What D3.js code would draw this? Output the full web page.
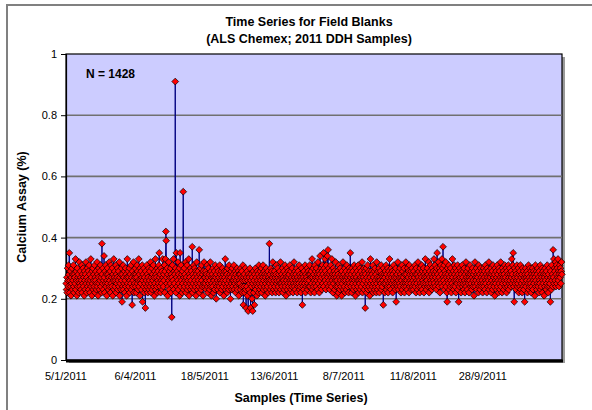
<!DOCTYPE html>
<html><head><meta charset="utf-8">
<script src="https://cdn.jsdelivr.net/npm/d3@7"></script>
<style>body{margin:0;background:#fff}svg{display:block;font-family:Arial,"Liberation Sans",sans-serif}</style>
</head><body><svg id="c" width="592" height="410"></svg>
<script>
// Calcium assay values (hundredths of %) per block of samples
const seg5Jan = [
25,23,27,22,30,26,24,31,28,35,22,26,29,24,21,27,25,30,23,28,
26,31,24,22,28,27,25,33,23,29,26,21,30,24,27,28,22,26,32,25,
24,29,27,23,26,31,22,28,25,30,24,27,21,29,26,23,28,32,25,22,
27,30,24,26,29,23,31,25,28,22,26,33,24,27,21,29,25,30,23,26,
28,24,31,22,27,26,29,23,25,32,24,28,21,27,30,25,23,29,26,31,
24,27,22,38,28,25,30,23,26,34,27,22,29,25,31,24,28,21,26,30,
25,28,23,27,32,24,26,29,22,31,25,27,24,30,21,28,26,33,23,27,
29,24,26,31,22,28,25,27,30,23,26,29,24,32,21,27,25,28,23,30,
26,19,28,24,31,23,27,25,29,22,26,30,24,28,21,27,33,25,23,29,
27,24,30,22,26,28,25,31,23,27,18,29,24,26,32,22,28,25,27,30];
const seg6Apr = [
24,28,22,27,31,25,29,23,26,33,24,28,21,30,26,25,29,23,27,31,
19,26,28,24,30,22,27,25,17,29,23,26,31,24,28,22,27,25,30,23,
26,29,24,32,22,27,25,30,23,28,26,31,24,27,21,29,25,33,23,28,
27,24,30,22,26,29,25,31,35,27,24,28,22,30,26,25,29,23,33,27,
24,28,26,31,22,29,33,42,39,27,25,30,21,28,24,32,26,23,29,27,
25,30,22,28,14,27,31,24,26,33,23,29,25,28,91,30,22,35,27,24,
29,26,32,23,28,25,30,21,35,27,24,31,26,28,22,29,25,55,23,27,
30,24,28,26,32,22,27,25,31,23,29,26,24,33,21,28,27,25,30,23,
26,29,24,37,22,28,25,31,27,23,30,26,24,29,21,28,32,25,27,23,
29,26,24,36,22,28,25,30,27,23,31,26,24,28,21,29,25,32,27,24];
const seg18May = [
27,25,29,23,28,26,31,24,22,27,30,25,28,23,26,32,24,29,21,27,
25,28,24,30,22,27,26,29,23,31,25,27,20,28,24,30,26,23,29,25,
27,24,31,22,28,26,25,29,23,27,30,24,26,28,21,29,25,27,33,23,
26,29,24,28,22,30,25,27,23,31,26,24,28,20,27,29,25,23,30,26,
24,28,26,31,23,27,25,29,22,28,26,24,30,23,27,25,29,21,28,26,
25,28,23,30,27,24,29,22,26,31,18,27,24,28,22,26,30,23,17,27,
24,29,21,26,16,28,23,27,25,30,22,17,26,28,24,20,27,16,25,29,
22,26,18,28,24,30,23,27,25,21,29,26,24,28,22,31,25,27,23,29,
26,24,30,22,28,25,27,31,23,26,29,24,28,21,27,25,30,23,26,28,
24,29,22,27,26,38,25,28,23,30,26,24,29,22,27,32,25,28,23,26];
const seg13Jun = [
29,24,27,22,28,31,25,26,23,30,27,24,28,22,26,29,25,32,23,27,
25,28,24,30,22,27,26,29,23,25,31,24,28,21,27,26,30,23,25,29,
27,24,28,22,31,26,25,29,23,27,24,30,26,22,28,25,32,24,27,29,
23,26,28,25,30,22,27,24,29,26,25,31,23,28,24,27,22,26,30,25,
18,28,24,27,23,29,26,25,31,22,28,24,27,26,30,23,25,29,24,28,
26,31,24,28,22,27,29,25,33,23,27,30,24,28,26,22,31,25,29,27,
24,30,26,28,23,32,27,25,29,22,28,34,26,24,30,27,23,29,31,25,
28,35,24,30,27,33,26,29,23,31,25,28,34,27,36,24,30,26,28,23,
29,25,31,27,24,33,26,28,22,30,25,27,29,23,28,26,32,24,27,21,
26,29,24,28,22,31,25,27,23,30,26,24,28,21,29,25,27,32,23,26];
const seg8Jul = [
28,24,30,22,27,26,29,23,31,25,27,24,28,22,26,30,25,29,35,27,
24,28,22,30,26,25,29,23,27,31,24,26,28,21,30,25,27,23,29,26,
24,31,22,28,26,25,30,23,27,29,24,26,32,22,28,25,27,30,23,26,
29,17,28,24,30,22,27,25,31,23,26,29,24,28,21,27,33,25,23,29,
26,28,24,31,22,27,25,29,23,30,26,24,28,22,32,25,27,23,29,26,
24,30,22,27,26,29,25,31,23,28,24,27,26,18,30,25,28,22,27,29,
25,31,23,28,26,24,30,22,27,29,25,33,24,28,26,23,30,27,25,29,
22,28,26,31,24,27,25,29,23,30,19,27,25,28,24,32,26,23,29,27,
25,30,24,28,22,27,26,31,23,29,25,27,24,30,22,28,26,25,32,24,
28,26,23,30,25,27,29,22,31,24,28,26,25,29,23,27,30,24,28,26];
const seg11Aug = [
23,29,25,27,31,24,28,22,30,26,25,28,23,32,27,24,29,26,22,30,
25,28,24,27,31,23,29,26,25,30,22,28,27,24,33,25,29,23,27,26,
30,24,28,25,32,22,27,29,24,31,26,25,28,23,30,27,24,29,26,33,
25,28,31,24,27,29,23,30,35,26,28,25,32,24,27,30,22,29,26,31,
25,28,33,24,30,37,27,26,31,23,29,25,28,32,24,27,22,19,30,26,
28,25,31,23,27,29,24,30,26,22,28,25,33,27,24,29,23,31,26,28,
24,30,22,27,26,29,25,31,23,28,19,26,24,30,27,25,29,22,28,26,
31,24,27,25,29,23,30,26,22,28,25,32,24,27,29,23,26,30,25,28,
22,27,26,31,24,28,25,29,23,27,30,24,26,28,21,29,25,32,24,27,
26,30,23,28,25,27,29,22,31,24,26,28,23,30,25,27,24,29,26,22];
const seg28Sep = [
28,25,30,24,27,29,23,31,26,25,28,22,30,27,24,29,26,32,23,28,
25,27,24,30,22,28,26,29,23,31,25,27,24,28,21,30,26,25,29,23,
27,31,24,28,26,22,30,25,29,23,27,32,24,26,28,22,30,25,27,29,
23,28,26,31,24,27,25,30,22,29,26,24,28,31,23,27,25,30,26,28,
24,29,27,33,25,28,31,35,26,24,19,30,27,25,29,23,28,26,31,24,
27,25,30,22,28,26,29,24,31,23,27,25,28,22,30,26,24,29,23,27,
19,28,25,30,24,27,26,29,22,28,25,31,23,27,24,30,26,25,29,22,
28,24,27,30,23,26,29,25,28,21,27,31,24,26,29,23,28,25,30,24,
27,22,29,26,25,31,23,28,24,27,30,22,26,29,25,28,21,27,24,30,
26,28,23,29,25,31,24,27,22,28,26,30,24,25,19,29,27,23,31,26,
28,24,36,27,33,25,30,29,26,32,24,28,31,25,30,27,33,26,29,24,
28,31,27,30,25,29,32,28];
const tickLabels = ["5/1/2011","6/4/2011","18/5/2011","13/6/2011","8/7/2011","11/8/2011","28/9/2011"];
const tickEvery = 200;
const yTicks = [0,0.2,0.4,0.6,0.8,1];

const values = [].concat(seg5Jan,seg6Apr,seg18May,seg13Jun,seg8Jul,seg11Aug,seg28Sep).map(v=>v/100);
const N = values.length;

const svg = d3.select("#c");
const L=66,R=562,T=54,B=360;
const x = d3.scaleLinear().domain([0,N]).range([L,R]);
const y = d3.scaleLinear().domain([0,1]).range([B,T]);

// outer frame
svg.append("rect").attr("x",7).attr("y",5).attr("width",620).attr("height",430)
  .attr("fill","#fff").attr("stroke","#808080").attr("stroke-width",2);

// plot shadow + area
svg.append("rect").attr("x",L+3).attr("y",T+3).attr("width",R-L).attr("height",B-T).attr("fill","#9a9a9a");
svg.append("rect").attr("x",L).attr("y",T).attr("width",R-L).attr("height",B-T)
  .attr("fill","#CCCCFF").attr("stroke","#000").attr("stroke-width",1.2);

// gridlines
svg.append("g").selectAll("line").data(yTicks.filter(t=>t>0&&t<1)).join("line")
  .attr("x1",L).attr("x2",R).attr("y1",d=>y(d)).attr("y2",d=>y(d))
  .attr("stroke","#707070").attr("stroke-width",1.6);

// y axis
const ya = svg.append("g").attr("transform",`translate(${L},0)`)
  .call(d3.axisLeft(y).tickValues(yTicks).tickFormat(d=>d3.format("~g")(d)).tickSize(5).tickPadding(4));
ya.select(".domain").attr("stroke","#000").attr("stroke-width",1.2);
ya.selectAll("text").attr("font-size",11).attr("font-family","Arial,'Liberation Sans',sans-serif").attr("fill","#000");
ya.selectAll("line").attr("stroke","#000");

// x axis (thick bottom)
svg.append("line").attr("x1",L).attr("x2",R+1).attr("y1",B+1).attr("y2",B+1).attr("stroke","#000").attr("stroke-width",3);
svg.append("g").selectAll("text").data(tickLabels).join("text")
  .attr("x",(d,i)=>x(i*tickEvery)).attr("y",380).attr("text-anchor","middle")
  .attr("font-size",11).text(d=>d);

// series line
svg.append("path").datum(values)
  .attr("d",d3.line().x((d,i)=>x(i+0.5)).y(d=>y(d)))
  .attr("fill","none").attr("stroke","#000080").attr("stroke-width",1);

// markers
const s=3.4;
svg.append("g").selectAll("path").data(values).join("path")
  .attr("d",(d,i)=>{const cx=x(i+0.5),cy=y(d);return `M${cx},${cy-s}L${cx+s},${cy}L${cx},${cy+s}L${cx-s},${cy}Z`;})
  .attr("fill","#ff0000").attr("stroke","#000").attr("stroke-width",0.7);

// titles
svg.append("text").attr("x",309).attr("y",26).attr("text-anchor","middle").attr("font-weight","bold").attr("font-size",12.5).text("Time Series for Field Blanks");
svg.append("text").attr("x",309).attr("y",43).attr("text-anchor","middle").attr("font-weight","bold").attr("font-size",12.5).text("(ALS Chemex; 2011 DDH Samples)");
svg.append("text").attr("transform","translate(26,207) rotate(-90)").attr("text-anchor","middle").attr("font-weight","bold").attr("font-size",12.5).text("Calcium Assay (%)");
svg.append("text").attr("x",301).attr("y",402).attr("text-anchor","middle").attr("font-weight","bold").attr("font-size",12.5).text("Samples (Time Series)");
svg.append("text").attr("x",86).attr("y",78).attr("font-weight","bold").attr("font-size",12).text("N = " + N);
</script></body></html>
